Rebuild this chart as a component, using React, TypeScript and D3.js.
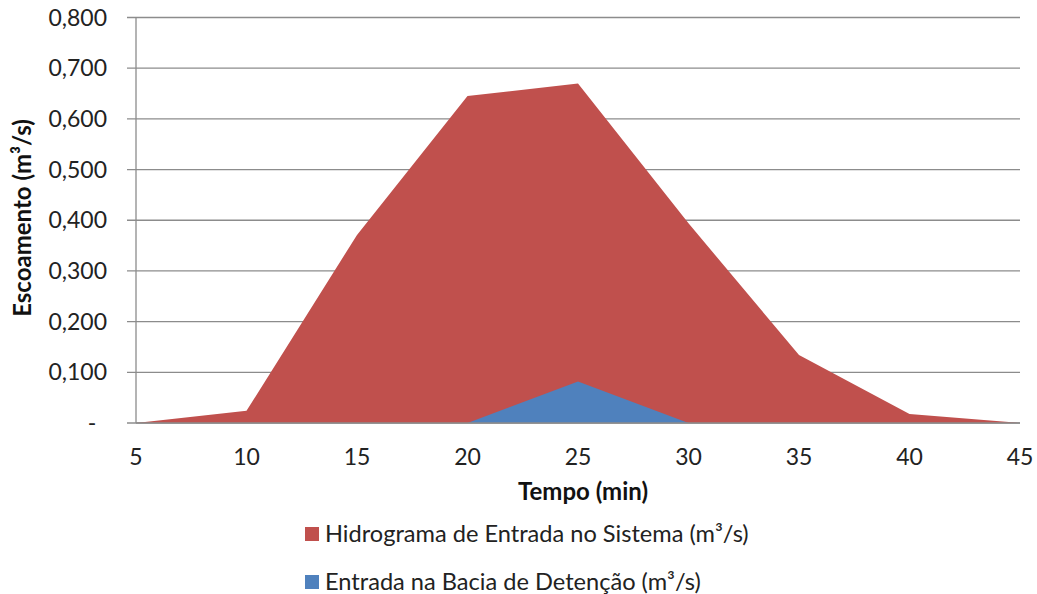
import React from "react";
import * as d3 from "d3";

const categories = ["5", "10", "15", "20", "25", "30", "35", "40", "45"];
const hidrograma = [0, 0.024, 0.371, 0.645, 0.67, 0.394, 0.134, 0.018, 0];
const bacia = [0, 0, 0, 0, 0.082, 0, 0, 0, 0];
const yTicks = [0, 0.1, 0.2, 0.3, 0.4, 0.5, 0.6, 0.7, 0.8];
const seriesNames = [
  "Hidrograma de Entrada no Sistema (m³/s)",
  "Entrada na Bacia de Detenção (m³/s)",
];
const seriesColors = ["#C0504D", "#4F81BD"];

const W = 1037;
const H = 594;
const left = 136;
const right = 1020;
const top = 17.5;
const bottom = 423;
const FONT = "Lato, 'Open Sans', sans-serif";

export default function App() {
  const x = d3.scalePoint<string>().domain(categories).range([left, right]).padding(0);
  const y = d3.scaleLinear().domain([0, 0.8]).range([bottom, top]);
  const area = d3
    .area<number>()
    .x((_, i) => x(categories[i]) as number)
    .y0(y(0))
    .y1((d) => y(d));
  const fmt = (v: number) => (v === 0 ? "-" : d3.format(".3f")(v).replace(".", ","));

  return (
    <svg
      width={W}
      height={H}
      style={{ position: "absolute", left: 0, top: 0, background: "#fff" }}
      fontFamily={FONT}
    >
      <rect width={W} height={H} fill="#fff" />
      {yTicks.map((t) => (
        <line key={t} x1={left - 9} x2={right} y1={y(t)} y2={y(t)} stroke="#8c8c8c" strokeWidth={1.3} />
      ))}
      <path d={area(hidrograma) || ""} fill={seriesColors[0]} />
      <path d={area(bacia) || ""} fill={seriesColors[1]} />
      <line x1={left} x2={left} y1={top} y2={bottom} stroke="#8c8c8c" strokeWidth={1.3} />
      <line x1={left} x2={right} y1={bottom} y2={bottom} stroke="#8c8c8c" strokeWidth={1.3} />
      {yTicks.map((t) => (
        <text
          key={"l" + t}
          x={t === 0 ? 92 : 107}
          y={y(t)}
          dy="0.35em"
          textAnchor={t === 0 ? "middle" : "end"}
          fontSize={23}
          fill="#222"
        >
          {fmt(t)}
        </text>
      ))}
      {categories.map((c) => (
        <text key={c} x={x(c)} y={457} dy="0.35em" textAnchor="middle" fontSize={23} fill="#222">
          {c}
        </text>
      ))}
      <text
        transform={`translate(23,218) rotate(-90)`}
        textAnchor="middle"
        dy="0.35em"
        fontSize={24}
        fontWeight="bold"
        fill="#111"
      >
        Escoamento (m³/s)
      </text>
      <text x={583} y={492} dy="0.35em" textAnchor="middle" fontSize={24} fontWeight="bold" fill="#111">
        Tempo (min)
      </text>
      {seriesNames.map((n, i) => (
        <g key={n} transform={`translate(305,${527 + i * 48})`}>
          <rect width={14} height={14} fill={seriesColors[i]} />
          <text x={20} y={7} dy="0.35em" fontSize={23.6} fill="#222">
            {n}
          </text>
        </g>
      ))}
    </svg>
  );
}
